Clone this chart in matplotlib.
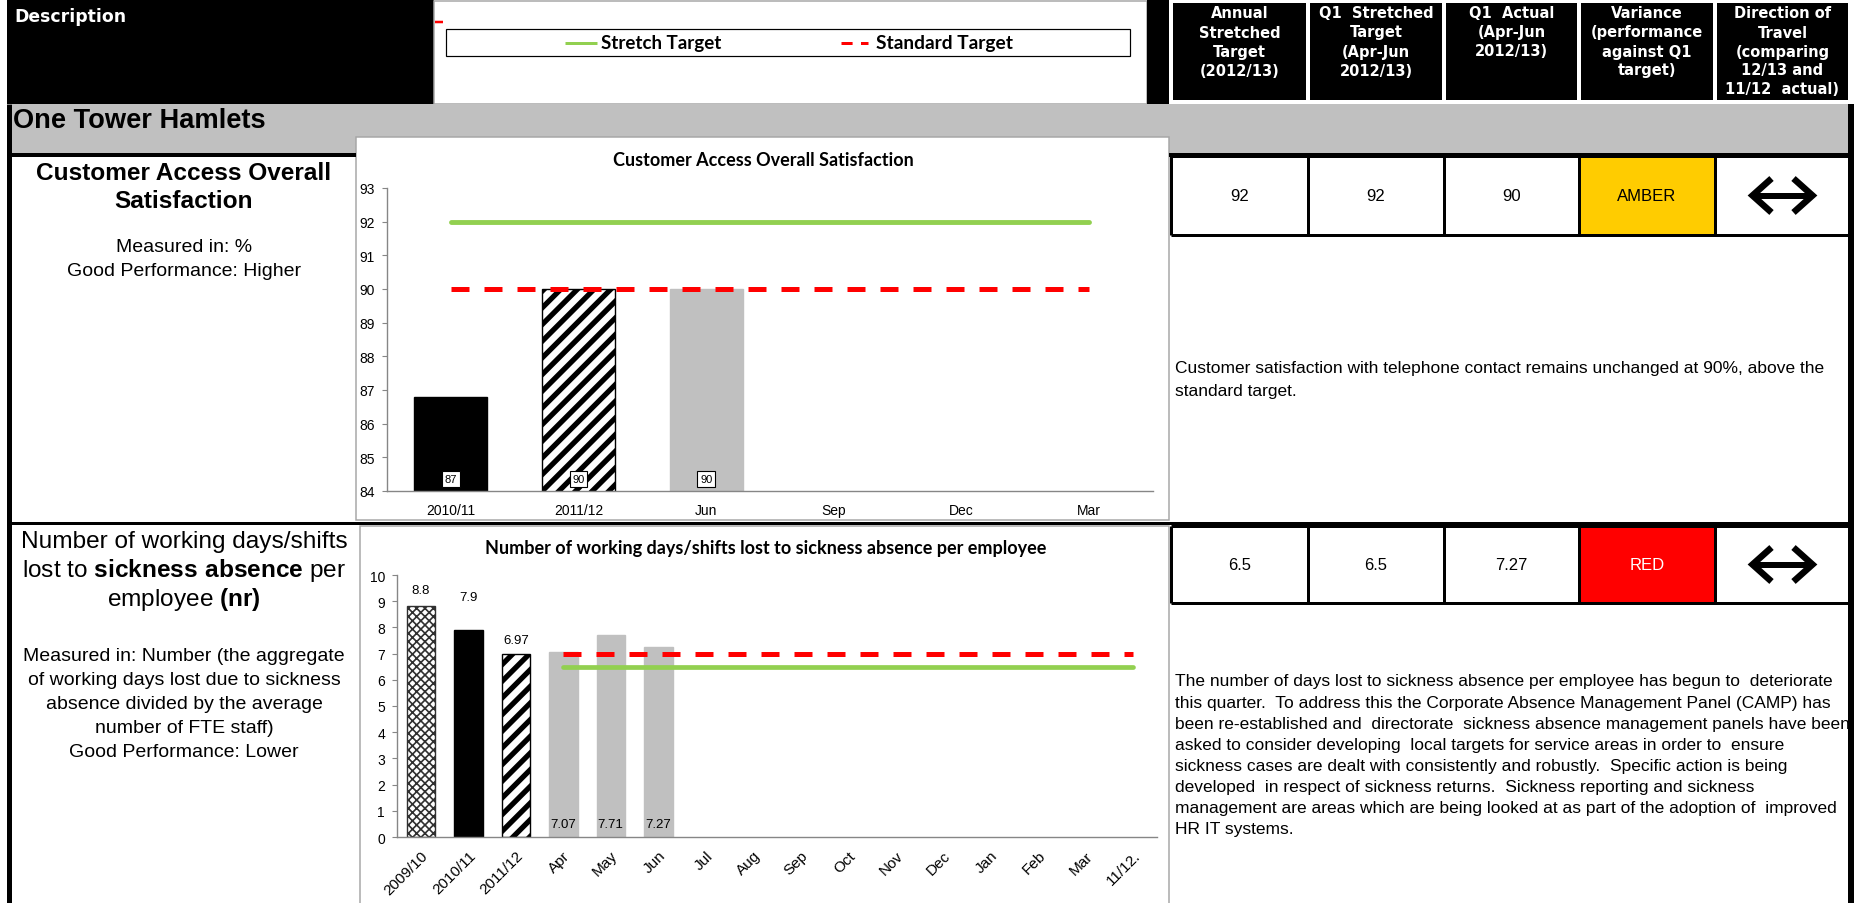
import numpy as np
import matplotlib as mpl
import matplotlib.pyplot as plt
from matplotlib.patches import Rectangle

# ---- data ----
sat_cats = ['2010/11', '2011/12', 'Jun', 'Sep', 'Dec', 'Mar']
sat_vals = [86.8, 90.0, 90.0]
sat_styles = ['black', 'stripes', 'grey']
sat_stretch = 92
sat_standard = 90

sick_cats = ['2009/10', '2010/11', '2011/12', 'Apr', 'May', 'Jun', 'Jul', 'Aug',
             'Sep', 'Oct', 'Nov', 'Dec', 'Jan', 'Feb', 'Mar', '11/12.']
sick_vals = [8.8, 7.9, 6.97, 7.07, 7.71, 7.27]
sick_styles = ['check', 'black', 'stripes', 'grey', 'grey', 'grey']
sick_stretch = 6.5
sick_standard = 7.0

headers = ['Annual\nStretched\nTarget\n(2012/13)',
           'Q1  Stretched\nTarget\n(Apr-Jun\n2012/13)',
           'Q1  Actual\n(Apr-Jun\n2012/13)',
           'Variance\n(performance\nagainst Q1\ntarget)',
           'Direction of\nTravel\n(comparing\n12/13 and\n11/12  actual)']
sat_row = ['92', '92', '90', 'AMBER']
sick_row = ['6.5', '6.5', '7.27', 'RED']

sat_comment = ['Customer satisfaction with telephone contact remains unchanged at 90%, above the',
               'standard target.']
sick_comment = ['The number of days lost to sickness absence per employee has begun to  deteriorate',
                'this quarter.  To address this the Corporate Absence Management Panel (CAMP) has',
                'been re-established and  directorate  sickness absence management panels have been',
                'asked to consider developing  local targets for service areas in order to  ensure',
                'sickness cases are dealt with consistently and robustly.  Specific action is being',
                'developed  in respect of sickness returns.  Sickness reporting and sickness',
                'management are areas which are being looked at as part of the adoption of  improved',
                'HR IT systems.']

ARIAL = ['Liberation Sans', 'DejaVu Sans']
CALIBRI = ['Lato', 'DejaVu Sans']
VERDANA = ['DejaVu Sans']
GREEN = '#92D050'
RED = '#FF0000'
GREY = '#C0C0C0'
AXGREY = '#868686'

plt.rcParams['mathtext.fontset'] = 'custom'
plt.rcParams['mathtext.rm'] = 'Liberation Sans'
plt.rcParams['mathtext.bf'] = 'Liberation Sans:bold'

W, H = 1854, 904
fig = plt.figure(figsize=(W / 100, H / 100), dpi=100)
bg = fig.add_axes([0, 0, 1, 1])
bg.set_xlim(0, W)
bg.set_ylim(H, 0)
bg.axis('off')


def box(x0, y0, x1, y1, fc, ec='none', lw=0, z=1):
    bg.add_patch(Rectangle((x0, y0), x1 - x0, y1 - y0, facecolor=fc,
                           edgecolor=ec, linewidth=lw * 0.72, zorder=z))


def seg(xs, ys, lw, color='black', z=3, **kw):
    bg.plot(xs, ys, color=color, lw=lw * 0.72, solid_capstyle='butt', zorder=z, **kw)


# ---- header strip ----
box(7, 0, 434, 105, 'black')
bg.text(14, 17, 'Description', color='white', fontsize=12.4, fontweight='bold',
        family=VERDANA, va='center', ha='left')
box(434, 2, 1147, 105, 'white', ec='#A6A6A6', lw=1.5)
seg([435, 443], [23, 23], 2.5, color=RED)
box(446, 30, 1130, 57, 'white', ec='black', lw=1.2, z=2)
seg([565, 597], [44, 44], 3, color=GREEN)
bg.text(601, 44, 'Stretch Target', fontsize=13.5, fontweight='bold', family=CALIBRI,
        va='center', ha='left')
seg([841, 868], [44, 44], 3, color=RED, dashes=(3.7, 2.8))
bg.text(876, 44, 'Standard Target', fontsize=13.8, fontweight='bold', family=CALIBRI,
        va='center', ha='left')
box(1147, 0, 1169, 105, 'black')

col_edges = [1171, 1308, 1444, 1579, 1715, 1850]
for i, txt in enumerate(headers):
    box(col_edges[i] + 2, 4, col_edges[i + 1] - 2, 101, 'black')
    xc = (col_edges[i] + col_edges[i + 1]) / 2
    for j, line in enumerate(txt.split('\n')):
        bg.text(xc, 14 + 19 * j, line, color='white', fontsize=10.5, fontweight='bold',
                family=VERDANA, ha='center', va='center')

# ---- section band ----
box(12, 105, 1848, 155, GREY)
bg.text(13, 121, 'One Tower Hamlets', fontsize=19.6, fontweight='bold', family=ARIAL,
        va='center', ha='left')

# frame lines
seg([7, 356], [156, 156], 4)
seg([1169, W], [156, 156], 4)
seg([7, W], [524, 524], 3)
seg([9.5, 9.5], [105, H], 5)
seg([1851, 1851], [105, H], 6)

# chart boxes
box(356, 138, 1169, 521, 'white', ec='#A6A6A6', lw=1.5, z=2)
box(360, 527, 1169, H + 10, 'white', ec='#A6A6A6', lw=1.5, z=2)

# ---- left description column ----
for j, line in enumerate(['Customer Access Overall', 'Satisfaction']):
    bg.text(184, 173 + 28 * j, line, fontsize=17.6, fontweight='bold', family=ARIAL,
            ha='center', va='center')
for j, line in enumerate(['Measured in: %', 'Good Performance: Higher']):
    bg.text(184, 248 + 24 * j, line, fontsize=14, family=ARIAL, ha='center', va='center')

sick_title = ['Number of working days/shifts',
              r'lost to $\mathbf{sickness\ absence}$ per',
              r'employee $\mathbf{(nr)}$']
for j, line in enumerate(sick_title):
    bg.text(184, 542 + 29 * j, line, fontsize=17.6, family=ARIAL, ha='center', va='center')
sick_desc = ['Measured in: Number (the aggregate', 'of working days lost due to sickness',
             'absence divided by the average', 'number of FTE staff)',
             'Good Performance: Lower']
for j, line in enumerate(sick_desc):
    bg.text(184, 657 + 24 * j, line, fontsize=14, family=ARIAL, ha='center', va='center')


# ---- right table ----
def arrow(xc, yc):
    seg([xc - 30, xc + 30], [yc, yc], 6, z=4)
    for s in (-1, 1):
        bg.plot([xc + s * 11, xc + s * 30, xc + s * 11], [yc - 17, yc, yc + 17],
                color='black', lw=6.5 * 0.72, solid_joinstyle='miter',
                solid_capstyle='butt', zorder=4)


def table_row(y0, y1, cells, rag_color, rag_text_color):
    yc = (y0 + y1) / 2
    box(col_edges[3], y0, col_edges[4], y1, rag_color, z=2)
    for i, txt in enumerate(cells):
        xc = (col_edges[i] + col_edges[i + 1]) / 2
        bg.text(xc, yc, txt, fontsize=12, family=ARIAL, ha='center', va='center',
                color=rag_text_color if i == 3 else 'black', zorder=5)
    arrow((col_edges[4] + col_edges[5]) / 2, yc)
    for x in col_edges:
        seg([x, x], [y0, y1], 3, z=4)
    seg([col_edges[0], col_edges[-1]], [y0, y0], 3, z=4)
    seg([col_edges[0], col_edges[-1]], [y1, y1], 3, z=4)


table_row(157, 236, sat_row, '#FFCC00', 'black')
table_row(527, 604, sick_row, RED, 'white')

for j, line in enumerate(sat_comment):
    bg.text(1175, 369 + 23 * j, line, fontsize=12.5, family=ARIAL, ha='left', va='center')
for j, line in enumerate(sick_comment):
    bg.text(1175, 682 + 21.1 * j, line, fontsize=12.5, family=ARIAL, ha='left', va='center')


# ---- charts ----
def style_bar(bar, kind):
    if kind == 'black':
        bar.set_facecolor('black')
        bar.set_edgecolor('black')
    elif kind == 'grey':
        bar.set_facecolor(GREY)
        bar.set_edgecolor(GREY)
    elif kind == 'stripes':
        bar.set_facecolor('white')
        bar.set_edgecolor('black')
        bar.set_hatch('//')
        if hasattr(bar, 'set_hatch_linewidth'):
            bar.set_hatch_linewidth(3.8)
    elif kind == 'check':
        bar.set_facecolor('white')
        bar.set_edgecolor('#303030')
        bar.set_hatch('xxxx')
        if hasattr(bar, 'set_hatch_linewidth'):
            bar.set_hatch_linewidth(1.2)


def setup_axes(ax, lo, hi):
    ax.set_facecolor('none')
    for s in ['top', 'right']:
        ax.spines[s].set_visible(False)
    for s in ['left', 'bottom']:
        ax.spines[s].set_color(AXGREY)
        ax.spines[s].set_linewidth(1)
    ax.set_ylim(lo, hi)
    ax.set_yticks(range(lo, hi + 1))
    ax.tick_params(axis='y', direction='out', length=3.6, color=AXGREY, labelsize=10, pad=5)
    ax.tick_params(axis='x', length=0, labelsize=10)
    for lab in ax.get_xticklabels() + ax.get_yticklabels():
        lab.set_family(ARIAL)


plt.rcParams['hatch.linewidth'] = 3.8
ax1 = fig.add_axes([387 / W, 1 - 492 / H, 766 / W, 303 / H])
ax1.set_zorder(5)
x1 = np.arange(len(sat_cats))
bars1 = ax1.bar(x1[:len(sat_vals)], sat_vals, width=0.57, linewidth=1)
for b, kind in zip(bars1, sat_styles):
    style_bar(b, kind)
ax1.plot([x1[0], x1[-1]], [sat_stretch] * 2, color=GREEN, lw=3.5, solid_capstyle='round')
ax1.plot([x1[0], x1[-1]], [sat_standard] * 2, color=RED, lw=3.6, dashes=(3.6, 3.0))
ax1.set_xlim(-0.5, len(sat_cats) - 0.5)
ax1.set_xticks(x1)
ax1.set_xticklabels(sat_cats)
setup_axes(ax1, 84, 93)
ax1.tick_params(axis='x', pad=9)
for xi, v in zip(x1, sat_vals):
    ax1.text(xi, 84.36, f'{v:.0f}', ha='center', va='center', fontsize=8, family=ARIAL,
             bbox=dict(boxstyle='square,pad=0.25', fc='white', ec='black', lw=0.8), zorder=6)
bg.text(763, 161, 'Customer Access Overall Satisfaction', fontsize=13, fontweight='bold',
        family=CALIBRI, ha='center', va='center', zorder=6)

plt.rcParams['hatch.linewidth'] = 1.2
ax2 = fig.add_axes([397 / W, 1 - 838 / H, 760 / W, 262 / H])
ax2.set_zorder(5)
x2 = np.arange(len(sick_cats))
bars2 = ax2.bar(x2[:len(sick_vals)], sick_vals, width=0.6, linewidth=1)
for b, kind in zip(bars2, sick_styles):
    style_bar(b, kind)
ax2.plot([x2[3], x2[-1]], [sick_standard] * 2, color=RED, lw=3.6, dashes=(3.6, 3.0))
ax2.plot([x2[3], x2[-1]], [sick_stretch] * 2, color=GREEN, lw=3.4, solid_capstyle='round')
ax2.set_xlim(-0.5, len(sick_cats) - 0.5)
ax2.set_xticks(x2)
ax2.set_xticklabels(sick_cats, rotation=45, ha='right', rotation_mode='anchor')
setup_axes(ax2, 0, 10)
ax2.tick_params(axis='x', pad=8, labelsize=11)
label_lift = {0: 0.63, 1: 1.26, 2: 0.55}
for xi, v, kind in zip(x2, sick_vals, sick_styles):
    if kind == 'grey':
        ax2.text(xi, 0.51, f'{v:g}', ha='center', va='center', fontsize=9.5, family=ARIAL)
    else:
        ax2.text(xi, v + label_lift[xi], f'{v:g}', ha='center', va='center', fontsize=9.5,
                 family=ARIAL)
bg.text(766, 549, 'Number of working days/shifts lost to sickness absence per employee',
        fontsize=13, fontweight='bold', family=CALIBRI, ha='center', va='center', zorder=6)

fig.savefig('out.png', dpi=100)
